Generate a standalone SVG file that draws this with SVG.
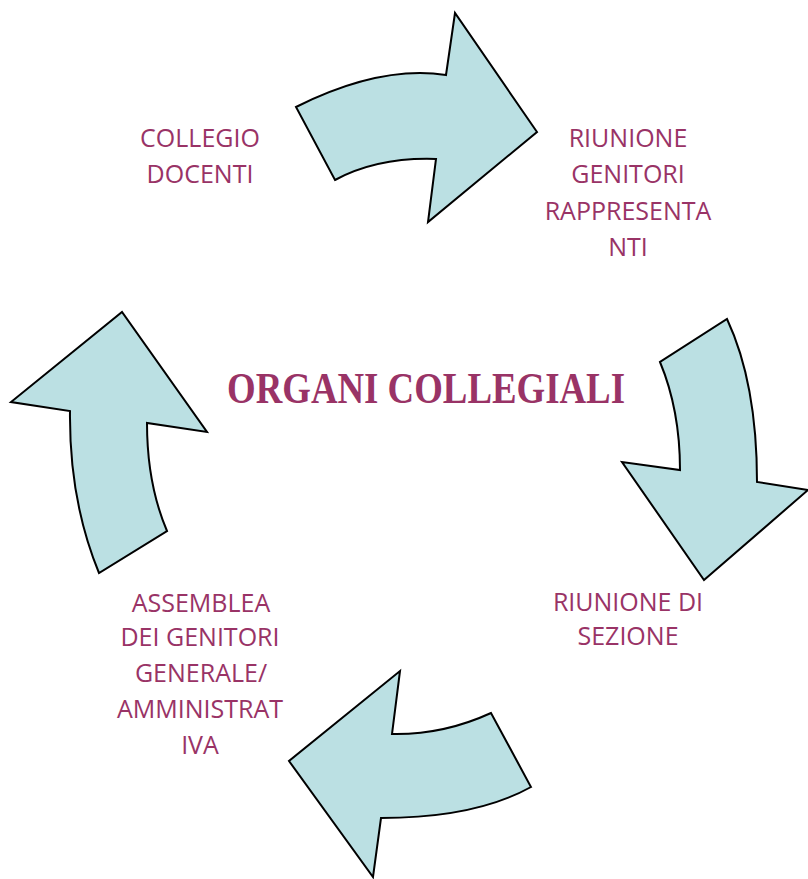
<svg xmlns="http://www.w3.org/2000/svg" width="808" height="879" viewBox="0 0 808 879">
<style>
.arrow{fill:#BBE0E3;stroke:#000;stroke-width:2;stroke-linejoin:miter}
.lbl{font-family:"Open Sans","Liberation Sans",sans-serif;font-size:25px;fill:#993366;text-anchor:middle}
.title{font-family:"Liberation Serif","DejaVu Serif",serif;font-size:44px;font-weight:bold;fill:#993366;text-anchor:middle}
</style>
<rect width="808" height="879" fill="#fff"/>
<g id="connectors">
<path id="arrow-top" class="arrow" d="M296,107 Q380,65 446,75 L455,13 L537,132 L428,222 L436,159 Q378,157 335,180 Z"/>
<path id="arrow-right" class="arrow" d="M727,319 Q757,383 757,482 L808,490 L704,580 L622,462 L680,470 Q680,410 660,362 Z"/>
<path id="arrow-bottom" class="arrow" d="M491,713 Q443,735 392,734 L400,671 L289,761 L373,877 L381,818 Q475,818 531,787 Z"/>
<path id="arrow-left" class="arrow" d="M99,573 Q69,500 70,411 L11,402 L122,312 L207,432 L147,423 Q147,484 167,531 Z"/>
</g>
<g id="title">
<text class="title" x="426" y="403" textLength="398" lengthAdjust="spacingAndGlyphs">ORGANI COLLEGIALI</text>
</g>
<g id="collegio-docenti">
<text class="lbl" x="200" y="147">COLLEGIO</text>
<text class="lbl" x="200" y="183">DOCENTI</text>
</g>
<g id="riunione-genitori">
<text class="lbl" x="628" y="147">RIUNIONE</text>
<text class="lbl" x="628" y="183">GENITORI</text>
<text class="lbl" x="628" y="220">RAPPRESENTA</text>
<text class="lbl" x="628" y="256">NTI</text>
</g>
<g id="riunione-sezione">
<text class="lbl" x="628" y="611">RIUNIONE DI</text>
<text class="lbl" x="628" y="645">SEZIONE</text>
</g>
<g id="assemblea">
<text class="lbl" x="201" y="612">ASSEMBLEA</text>
<text class="lbl" x="200" y="646">DEI GENITORI</text>
<text class="lbl" x="201" y="682">GENERALE/</text>
<text class="lbl" x="200" y="718">AMMINISTRAT</text>
<text class="lbl" x="200" y="754">IVA</text>
</g>
</svg>
